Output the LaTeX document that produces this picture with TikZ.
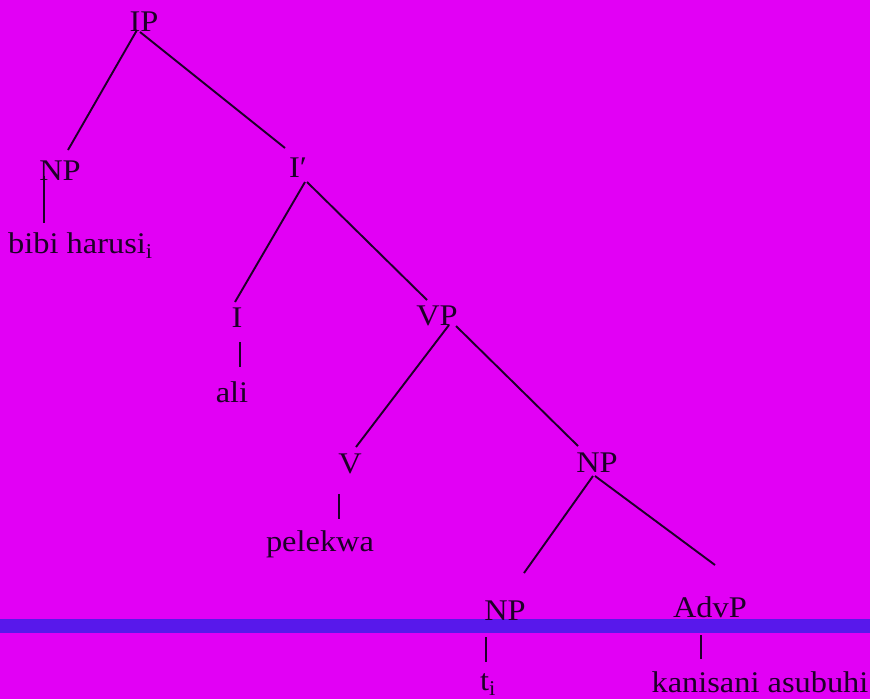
\documentclass[tikz,border=0pt]{standalone}
\usepackage{fontspec}
\setmainfont[FakeStretch=1.08]{Liberation Serif}
\definecolor{bg}{RGB}{226,0,245}
\definecolor{bar}{RGB}{88,24,235}
\definecolor{ink}{RGB}{30,0,40}
\begin{document}
\begin{tikzpicture}[x=1pt,y=-1pt,
  lab/.style={inner sep=0pt,anchor=base,text=ink,font=\fontsize{30}{36}\selectfont},
  edge/.style={draw=ink,line width=1.9pt}]
\fill[bg] (0,0) rectangle (870,699);
\useasboundingbox (0,0) rectangle (870,699);
\fill[bar] (0,619) rectangle (870,633);
\node[lab] (IP) at (144,31) {IP};
\node[lab] (NPa) at (60,180) {NP};
\node[lab] (Ibar) at (298,177) {I′};
\node[lab,anchor=base west] (bibi) at (8,253) {bibi harusi\textsubscript{i}};
\node[lab] (I) at (237,327) {I};
\node[lab] (VP) at (437,325) {VP};
\node[lab] (ali) at (232,402) {ali};
\node[lab] (V) at (350,473) {V};
\node[lab] (NPb) at (597,472) {NP};
\node[lab] (pelekwa) at (320,551) {pelekwa};
\node[lab] (NPc) at (505,620) {NP};
\node[lab] (AdvP) at (710,617) {AdvP};
\node[lab,anchor=base west] (t) at (480,690) {t\textsubscript{i}};
\node[lab] (kan) at (760,692) {kanisani asubuhi};
\draw[edge] ([shift={(-7,-1)}]IP.base) -- ([shift={(8,-30)}]NPa.base);
\draw[edge] ([shift={(-4,1)}]IP.base) -- ([shift={(-13,-29)}]Ibar.base);
\draw[edge] ([shift={(-16,-4)}]NPa.base) -- ([shift={(36,-30)}]bibi.base west);
\draw[edge] ([shift={(7,5)}]Ibar.base) -- ([shift={(-2,-25)}]I.base);
\draw[edge] ([shift={(9,5)}]Ibar.base) -- ([shift={(-10,-25)}]VP.base);
\draw[edge] ([shift={(3,15)}]I.base) -- ([shift={(8,-35)}]ali.base);
\draw[edge] ([shift={(12,0)}]VP.base) -- ([shift={(6,-26)}]V.base);
\draw[edge] ([shift={(19,1)}]VP.base) -- ([shift={(-19,-26)}]NPb.base);
\draw[edge] ([shift={(-11,21)}]V.base) -- ([shift={(19,-32)}]pelekwa.base);
\draw[edge] ([shift={(-4,4)}]NPb.base) -- ([shift={(19,-47)}]NPc.base);
\draw[edge] ([shift={(-2,4)}]NPb.base) -- ([shift={(5,-52)}]AdvP.base);
\draw[edge] ([shift={(-19,17)}]NPc.base) -- ([shift={(6,-28)}]t.base west);
\draw[edge] ([shift={(-9,18)}]AdvP.base) -- ([shift={(-59,-33)}]kan.base);
\end{tikzpicture}
\end{document}
